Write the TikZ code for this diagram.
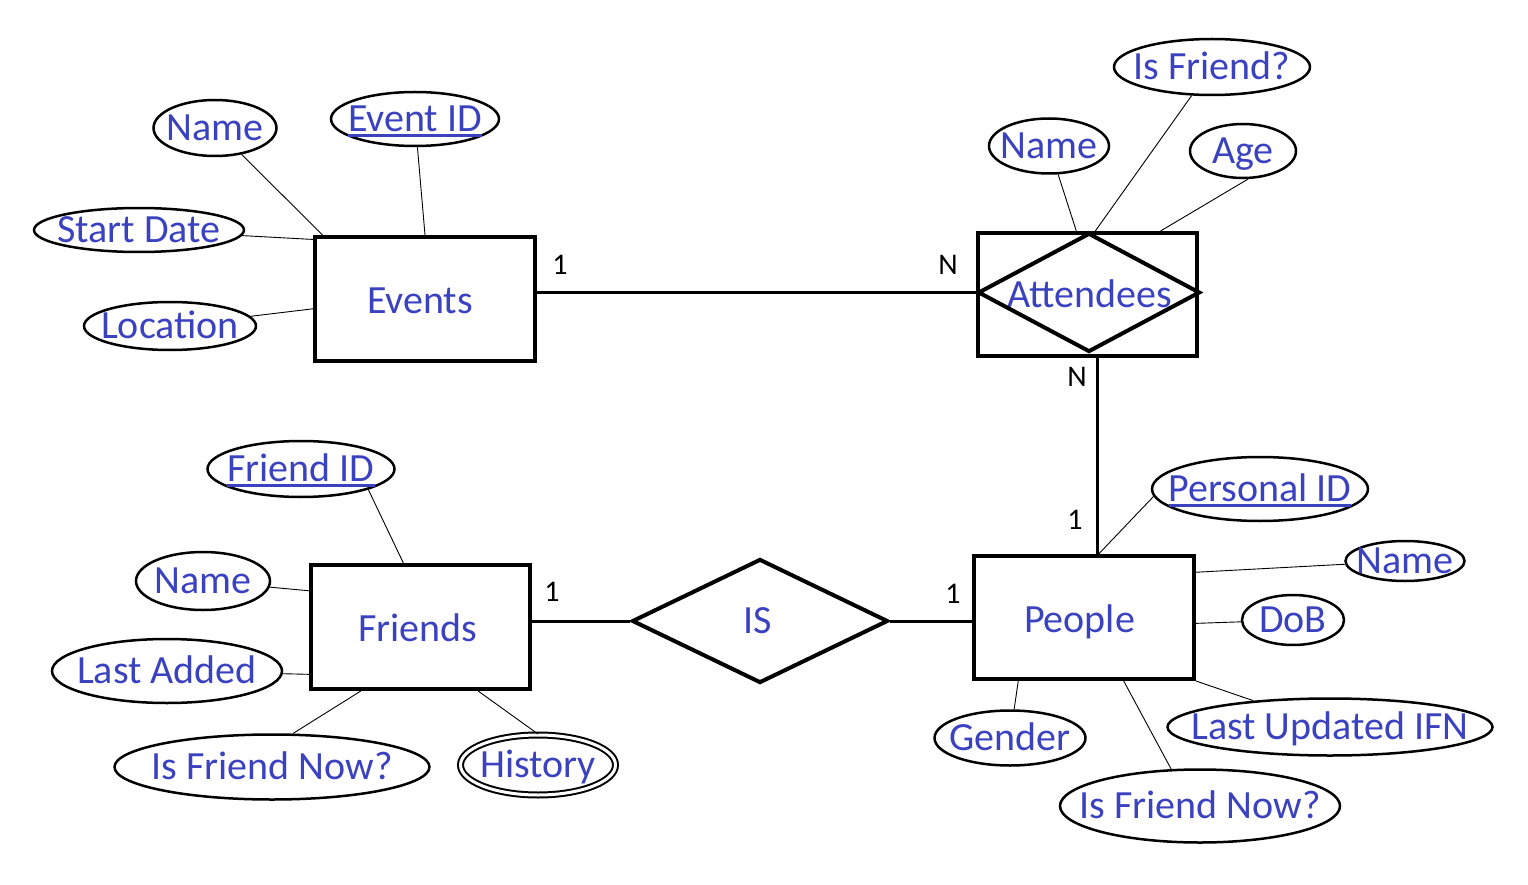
\documentclass[tikz,border=0pt]{standalone}
\usepackage{fontspec}
\setmainfont{Carlito}
\usetikzlibrary{shapes.geometric}
\definecolor{txt}{RGB}{58,66,192}
\newcommand\attxt[1]{\smash{\makebox[0pt]{\raisebox{-0.32em}{#1}}}}
\newcommand\keyul[1]{\setbox0\hbox{#1}\rlap{\raisebox{-0.13em}{\rule{\wd0}{2.6pt}}}\box0}
\begin{document}
\begin{tikzpicture}[x=1pt,y=-1pt,
  ent/.style={draw,line width=4pt,minimum width=220pt,minimum height=124pt,inner sep=0pt,
    font=\fontsize{40}{42}\selectfont,text=txt},
  att/.style={draw,ellipse,line width=2.5pt,inner sep=0pt,
    font=\fontsize{40}{42}\selectfont,text=txt},
  relshape/.style={draw,diamond,line width=4pt,inner sep=0pt,
    font=\fontsize{40}{42}\selectfont,text=txt},
  lnk/.style={line width=0.9pt},
  rel/.style={line width=3pt},
  card/.style={font=\fontsize{30}{32}\selectfont,text=black,inner sep=0pt}]
\useasboundingbox (0,0) rectangle (1528,885);
\fill[white] (0,0) rectangle (1528,885);

% entities
\node[ent] (events) at (425,299) {\attxt{\hspace{-10pt}\raisebox{-2pt}{Events}}};
\node[ent,minimum width=219pt] (friends) at (420.5,627) {\attxt{\hspace{-5pt}\raisebox{-2pt}{Friends}}};
\node[ent,minimum height=123pt] (people) at (1084,617.5) {\attxt{\hspace{-9pt}\raisebox{-2pt}{People}}};
\node[ent,minimum width=219pt,minimum height=123pt] (attr) at (1087.5,294.5) {\attxt{\hspace{4pt}Attendees}};
\node[relshape,minimum width=222pt,minimum height=119pt] (attd) at (1089,292.5) {};
\node[relshape,minimum width=256pt,minimum height=124pt] (isr) at (760,621) {\attxt{\hspace{-5pt}IS}};

% Events attributes
\node[att,minimum width=123pt,minimum height=56pt] (evname) at (215,128) {\attxt{Name}};
\node[att,minimum width=168pt,minimum height=54pt] (evid) at (415,119) {\attxt{\keyul{Event ID}}};
\node[att,minimum width=210pt,minimum height=44pt] (evstart) at (139,230) {\attxt{Start Date}};
\node[att,minimum width=172pt,minimum height=48pt] (evloc) at (170,326) {\attxt{Location}};

% Attendees attributes
\node[att,minimum width=120pt,minimum height=55pt] (atname) at (1049,146) {\attxt{Name}};
\node[att,minimum width=196pt,minimum height=56pt] (atfriend) at (1212,67) {\attxt{Is Friend?}};
\node[att,minimum width=106pt,minimum height=54pt] (atage) at (1243,151) {\attxt{Age}};

% People attributes
\node[att,minimum width=216pt,minimum height=64pt] (pid) at (1260,489) {\attxt{\keyul{Personal ID}}};
\node[att,minimum width=119pt,minimum height=40pt] (pname) at (1405,561) {\attxt{Name}};
\node[att,minimum width=102pt,minimum height=50pt] (pdob) at (1293,620) {\attxt{DoB}};
\node[att,minimum width=325pt,minimum height=57pt] (plast) at (1330,727) {\attxt{Last Updated IFN}};
\node[att,minimum width=280pt,minimum height=73pt] (pnow) at (1200,806) {\attxt{Is Friend Now?}};
\node[att,minimum width=151pt,minimum height=55pt] (pgender) at (1010,738) {\attxt{Gender}};

% Friends attributes
\node[att,minimum width=187pt,minimum height=56pt] (fid) at (301,469) {\attxt{\keyul{Friend ID}}};
\node[att,minimum width=134pt,minimum height=58pt] (fname) at (203,581) {\attxt{Name}};
\node[att,minimum width=230pt,minimum height=64pt] (flast) at (167,671) {\attxt{Last Added}};
\node[att,minimum width=315pt,minimum height=65pt] (fnow) at (272,767) {\attxt{Is Friend Now?}};
\node[att,line width=2pt,double,double distance=3pt,minimum width=155pt,minimum height=60pt] (fhist) at (538,765) {\attxt{History}};

% attribute connectors
\draw[lnk] (evname) -- (events.148);
\draw[lnk] (events.north) -- (evid);
\draw[lnk] (evstart) -- (events.152);
\draw[lnk] (evloc) -- (events.185);

\draw[lnk] (atname) -- (attr.100);
\draw[lnk] (atfriend) -- (attr.83);
\draw[lnk] (atage.-80) -- (attr.41);

\draw[lnk] (pid.184) -- (people.77);
\draw[lnk] (pname) -- (people.22);
\draw[lnk] (pdob) -- (people.-3);
\draw[lnk] (plast) -- (people.south east);
\draw[lnk] (pnow.128) -- (people.-58);
\draw[lnk] (pgender) -- (people.-136);

\draw[lnk] (fid.-17) -- (friends.105);
\draw[lnk] (fname) -- (friends.162);
\draw[lnk] (flast) -- (friends.203);
\draw[lnk] (fnow.58) -- (friends.-133);
\draw[lnk] (fhist.north) -- (friends.-48);

% relationship lines
\draw[rel] (events.east |- attd.west) -- (attd.west);
\draw[rel] (people.78) -- (people.78 |- attr.south);
\draw[rel] (isr.west -| friends.east) -- (isr.west);
\draw[rel] (isr.east) -- (isr.east -| people.west);

% cardinalities
\node[card] (c1) at (560,265) {1};
\node[card] (c2) at (948,265) {N};
\node[card] (c3) at (1077,377) {N};
\node[card] (c4) at (1075,520) {1};
\node[card] (c5) at (552,592) {1};
\node[card] (c6) at (953,594) {1};
\end{tikzpicture}
\end{document}
